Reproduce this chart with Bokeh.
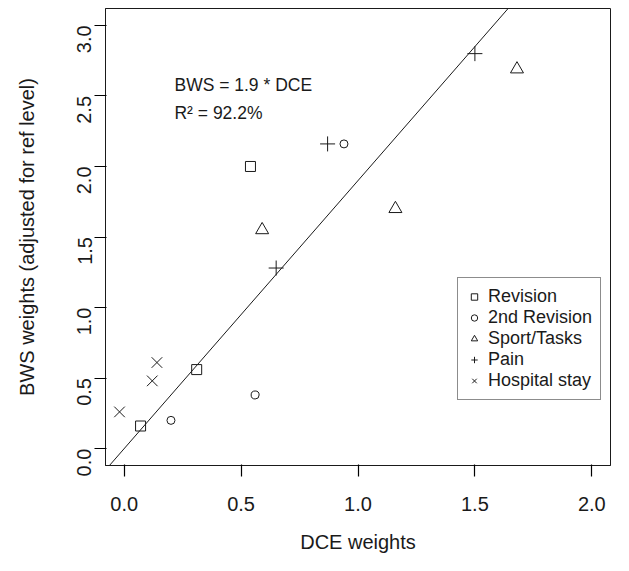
import math
from bokeh.plotting import figure
from bokeh.models import (Range1d, Slope, Label, Legend, LegendItem, FixedTicker,
                          LinearAxis)
from bokeh.embed import file_html
from bokeh.resources import INLINE

# ---- data ----
revision_x = [0.07, 0.31, 0.54]
revision_y = [0.16, 0.56, 2.00]
revision2_x = [0.20, 0.56, 0.94]
revision2_y = [0.20, 0.38, 2.16]
sport_x = [0.59, 1.16, 1.68]
sport_y = [1.55, 1.70, 2.69]
pain_x = [0.65, 0.87, 1.50]
pain_y = [1.28, 2.16, 2.80]
hosp_x = [-0.02, 0.12, 0.14]
hosp_y = [0.26, 0.48, 0.61]

fit_slope = 1.9
fit_r2 = 92.2

x_ticks = [0.0, 0.5, 1.0, 1.5, 2.0]
x_tick_labels = ["0.0", "0.5", "1.0", "1.5", "2.0"]
y_ticks = [0.0, 0.5, 1.0, 1.5, 2.0, 2.5, 3.0]
y_tick_labels = ["0.0", "0.5", "1.0", "1.5", "2.0", "2.5", "3.0"]

FONT = "Liberation Sans"
INK = "#1a1a1a"

p = figure(width=613, height=555, output_backend="svg", toolbar_location=None,
           x_range=Range1d(-0.08, 2.08), y_range=Range1d(-0.12, 3.12),
           x_axis_type=None, y_axis_type=None,
           min_border_left=105, min_border_right=3, min_border_top=8, min_border_bottom=86)

p.outline_line_color = INK
p.outline_line_width = 1
p.background_fill_color = "white"
p.border_fill_color = "white"

common = dict(
    axis_line_color=INK, axis_line_width=1,
    major_tick_in=1, major_tick_out=11,
    major_tick_line_color="black", major_tick_line_width=1.2,
    minor_tick_in=0, minor_tick_out=0,
    major_label_text_font=FONT, major_label_text_font_size="20px",
    major_label_text_color=INK,
    axis_label_text_font=FONT, axis_label_text_font_size="20px",
    axis_label_text_font_style="normal", axis_label_text_color=INK,
)

xaxis = LinearAxis(
    ticker=FixedTicker(ticks=x_ticks, minor_ticks=[]),
    major_label_overrides=dict(zip(x_ticks, x_tick_labels)),
    axis_label="DCE weights",
    major_label_standoff=20, axis_label_standoff=17,
    **common)
yaxis = LinearAxis(
    ticker=FixedTicker(ticks=y_ticks, minor_ticks=[]),
    major_label_overrides=dict(zip(y_ticks, y_tick_labels)),
    axis_label="BWS weights (adjusted for ref level)",
    major_label_orientation=math.pi / 2,
    major_label_standoff=10, axis_label_standoff=30,
    **common)
p.add_layout(xaxis, "below")
p.add_layout(yaxis, "left")

# regression line through the origin
p.add_layout(Slope(gradient=fit_slope, y_intercept=0, line_color=INK, line_width=1))

r_rev = p.scatter(revision_x, revision_y, marker="square", size=10,
                  fill_color=None, line_color=INK, line_width=1)
r_rev2 = p.scatter(revision2_x, revision2_y, marker="circle", size=8,
                   fill_color=None, line_color=INK, line_width=1)
r_sport = p.scatter(sport_x, sport_y, marker="triangle", size=13,
                    fill_color=None, line_color=INK, line_width=1)
r_pain = p.scatter(pain_x, pain_y, marker="cross", size=15,
                   fill_color=None, line_color=INK, line_width=1)
r_hosp = p.scatter(hosp_x, hosp_y, marker="x", size=15,
                   fill_color=None, line_color=INK, line_width=1)

p.add_layout(Label(x=0.215, y=2.577, text="BWS = %.1f * DCE" % fit_slope,
                   text_font=FONT, text_font_size="17.5px", text_color=INK,
                   text_baseline="alphabetic"))
p.add_layout(Label(x=0.215, y=2.382, text="R\u00b2 = %.1f%%" % fit_r2,
                   text_font=FONT, text_font_size="17.5px", text_color=INK,
                   text_baseline="alphabetic"))

legend = Legend(items=[
    LegendItem(label="Revision", renderers=[r_rev]),
    LegendItem(label="2nd Revision", renderers=[r_rev2]),
    LegendItem(label="Sport/Tasks", renderers=[r_sport]),
    LegendItem(label="Pain", renderers=[r_pain]),
    LegendItem(label="Hospital stay", renderers=[r_hosp]),
], location=(352, 65))
legend.padding = 8
legend.spacing = 0
legend.margin = 0
legend.glyph_width = 16
legend.glyph_height = 21
legend.label_height = 21
legend.label_width = 103
legend.label_standoff = 6
legend.label_text_font = FONT
legend.label_text_font_size = "18px"
legend.label_text_color = INK
legend.border_line_color = INK
legend.border_line_width = 1
legend.background_fill_color = "white"
legend.background_fill_alpha = 1
p.add_layout(legend, "center")

open("out.html", "w").write(file_html(p, INLINE))
